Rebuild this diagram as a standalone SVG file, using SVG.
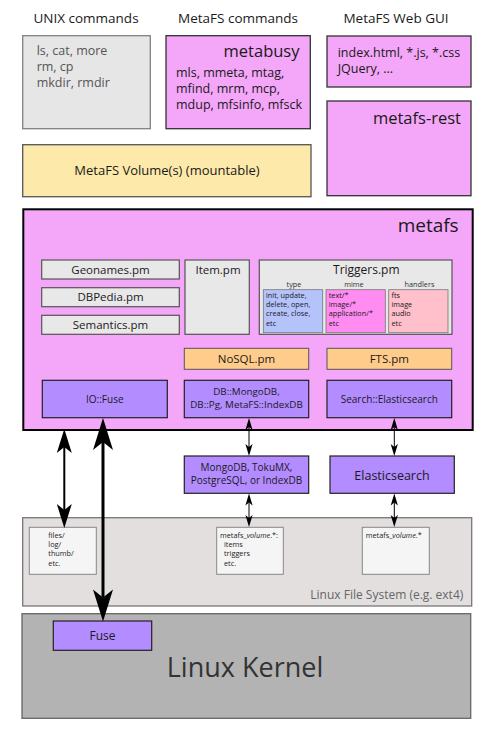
<svg xmlns="http://www.w3.org/2000/svg" width="488" height="733" viewBox="0 0 488 733">
<style>
text{font-family:"Open Sans","DejaVu Sans",sans-serif;fill:#1a1a1a}
.hdr{font-size:13.5px;text-anchor:middle}
.cmd{font-size:12.5px}
.big{font-size:16.5px;text-anchor:end}
.mod{font-size:11.5px;text-anchor:middle}
.sm{font-size:10px;text-anchor:middle}
.tiny{font-size:7.3px}
.tinyc{font-size:7.3px;text-anchor:middle;fill:#333}
.gray{fill:#e6e6e6;stroke:#808080;stroke-width:1.3}
.pink{fill:#f4a6f8;stroke:#333;stroke-width:1.3}
.purp{fill:#b38cff;stroke:#222;stroke-width:1.2}
.orng{fill:#ffcc8c;stroke:#555;stroke-width:1}
.mgray{fill:#e8e8e8;stroke:#555;stroke-width:1.2}
.file{fill:#f5f5f5;stroke:#888;stroke-width:1}
.ln{fill:none;stroke:#000}
</style>
<defs>
<marker id="mBig" markerUnits="userSpaceOnUse" orient="auto-start-reverse" refX="-24" refY="0" overflow="visible"><path d="M0,0 L-32,-10 L-24,0 L-32,10 Z" fill="#000"/></marker>
<marker id="mMed" markerUnits="userSpaceOnUse" orient="auto-start-reverse" refX="-18" refY="0" overflow="visible"><path d="M0,0 L-24,-7.5 L-18,0 L-24,7.5 Z" fill="#000"/></marker>
<marker id="mSm" markerUnits="userSpaceOnUse" orient="auto-start-reverse" refX="-9" refY="0" overflow="visible"><path d="M0,0 L-12,-3.6 L-9,0 L-12,3.6 Z" fill="#000"/></marker>
</defs>

<g id="headers">
<text class="hdr" x="86" y="23">UNIX commands</text>
<text class="hdr" x="238" y="23">MetaFS commands</text>
<text class="hdr" x="396" y="23">MetaFS Web GUI</text>
</g>

<g id="unix">
<rect class="gray" x="22.7" y="35.7" width="127.6" height="93"/>
<text class="cmd" x="36.7" y="55" style="fill:#555">ls, cat, more</text>
<text class="cmd" x="36.7" y="71" style="fill:#555">rm, cp</text>
<text class="cmd" x="36.7" y="87" style="fill:#555">mkdir, rmdir</text>
</g>

<g id="metabusy">
<rect class="pink" x="166" y="35.7" width="144.3" height="93"/>
<text class="big" x="299.5" y="57">metabusy</text>
<text class="cmd" x="176" y="77">mls, mmeta, mtag,</text>
<text class="cmd" x="176" y="93">mfind, mrm, mcp,</text>
<text class="cmd" x="176" y="109">mdup, mfsinfo, mfsck</text>
</g>

<g id="webgui">
<rect class="pink" x="327" y="36" width="144" height="51"/>
<text class="cmd" x="337.7" y="57">index.html, *.js, *.css</text>
<text class="cmd" x="337.7" y="73">JQuery, ...</text>
</g>

<g id="metafs-rest">
<rect class="pink" x="327" y="101" width="144" height="94.7"/>
<text class="big" x="461" y="124">metafs-rest</text>
</g>

<g id="volume">
<rect x="22.7" y="144.7" width="288.3" height="52" fill="#fde9a9" stroke="#555" stroke-width="1.3"/>
<text x="167" y="175" style="font-size:13px;text-anchor:middle">MetaFS Volume(s) (mountable)</text>
</g>

<g id="metafs">
<rect x="23.3" y="209.3" width="449.4" height="220.7" fill="#f4a6f8" stroke="#000" stroke-width="2"/>
<text x="458.7" y="232" style="font-size:19px;text-anchor:end">metafs</text>
</g>

<g id="geonames">
<rect class="mgray" x="41.7" y="260" width="137.6" height="19"/>
<text class="mod" x="110.5" y="273.5">Geonames.pm</text>
</g>
<g id="dbpedia">
<rect class="mgray" x="41.7" y="287.7" width="137.6" height="19"/>
<text class="mod" x="110.5" y="301">DBPedia.pm</text>
</g>
<g id="semantics">
<rect class="mgray" x="41.7" y="315.3" width="137.6" height="19"/>
<text class="mod" x="110.5" y="328.5">Semantics.pm</text>
</g>

<g id="item">
<rect class="mgray" x="185" y="260" width="64.3" height="74.3"/>
<text class="mod" x="218" y="273.5">Item.pm</text>
</g>

<g id="triggers">
<rect class="mgray" x="259.3" y="260" width="192.7" height="74.3"/>
<text class="mod" x="366.3" y="273.5" style="font-size:12px">Triggers.pm</text>
<text class="tinyc" x="294" y="286.5">type</text>
<text class="tinyc" x="354" y="286.5">mime</text>
<text class="tinyc" x="419.5" y="286.5">handlers</text>
<rect x="263.3" y="289.7" width="59.4" height="43" fill="#b4c3fa" stroke="#777" stroke-width="0.8"/>
<rect x="326" y="289.7" width="59.3" height="43" fill="#ff8cf0" stroke="#777" stroke-width="0.8"/>
<rect x="388.7" y="289.7" width="59.3" height="43" fill="#ffc0cb" stroke="#777" stroke-width="0.8"/>
<text class="tiny" x="266" y="297.5">init, update,</text>
<text class="tiny" x="266" y="307">delete, open,</text>
<text class="tiny" x="266" y="316.3">create, close,</text>
<text class="tiny" x="266" y="325.7">etc</text>
<text class="tiny" x="328.7" y="297.5">text/*</text>
<text class="tiny" x="328.7" y="307">image/*</text>
<text class="tiny" x="328.7" y="316.3">application/*</text>
<text class="tiny" x="328.7" y="325.7">etc</text>
<text class="tiny" x="391.5" y="297.5">fts</text>
<text class="tiny" x="391.5" y="307">image</text>
<text class="tiny" x="391.5" y="316.3">audio</text>
<text class="tiny" x="391.5" y="325.7">etc</text>
</g>

<g id="nosql">
<rect class="orng" x="184.3" y="348.3" width="124.4" height="21"/>
<text class="mod" x="246.5" y="362.5">NoSQL.pm</text>
</g>
<g id="fts">
<rect class="orng" x="327" y="348.3" width="124.7" height="21"/>
<text class="mod" x="389.3" y="362.5">FTS.pm</text>
</g>

<g id="iofuse">
<rect class="purp" x="42.3" y="380.3" width="125" height="37.4"/>
<text class="sm" x="104.8" y="402.5">IO::Fuse</text>
</g>
<g id="dbdrivers">
<rect class="purp" x="184.3" y="380.3" width="124.4" height="37.4"/>
<text class="sm" x="246.5" y="394.5" style="font-size:9.8px">DB::MongoDB,</text>
<text class="sm" x="246.5" y="407.5" style="font-size:9.8px">DB::Pg, MetaFS::IndexDB</text>
</g>
<g id="searches">
<rect class="purp" x="327" y="380.3" width="124.7" height="37.4"/>
<text class="sm" x="389.3" y="402.5">Search::Elasticsearch</text>
</g>

<g id="mongodb">
<rect class="purp" x="184.3" y="456" width="124.4" height="37.3"/>
<text class="sm" x="246.5" y="470.5">MongoDB, TokuMX,</text>
<text class="sm" x="246.5" y="483.5">PostgreSQL, or IndexDB</text>
</g>
<g id="elasticsearch">
<rect class="purp" x="330" y="456" width="124.3" height="37.3"/>
<text x="392" y="479.5" style="font-size:12.5px;text-anchor:middle">Elasticsearch</text>
</g>

<g id="linuxfs">
<rect x="22.7" y="517.7" width="449" height="88.3" fill="#e3dfdf" stroke="#777" stroke-width="1.3"/>
<text x="463.3" y="598.5" style="font-size:12px;text-anchor:end;fill:#666">Linux File System (e.g. ext4)</text>
</g>
<g id="files">
<rect class="file" x="29.3" y="527.3" width="67" height="47"/>
<text class="tiny" x="48.3" y="537.5">files/</text>
<text class="tiny" x="48.3" y="547">log/</text>
<text class="tiny" x="48.3" y="556.3">thumb/</text>
<text class="tiny" x="48.3" y="565.7">etc.</text>
</g>
<g id="dbfiles">
<rect class="file" x="216.7" y="527.3" width="66.6" height="47"/>
<text class="tiny" x="220" y="537.5">metafs_<tspan font-style="italic">volume</tspan>.*:</text>
<text class="tiny" x="224" y="547">items</text>
<text class="tiny" x="224" y="556.3">triggers</text>
<text class="tiny" x="224" y="565.7">etc.</text>
</g>
<g id="esfiles">
<rect class="file" x="362.3" y="527.3" width="67" height="47"/>
<text class="tiny" x="365.7" y="537.5">metafs_<tspan font-style="italic">volume</tspan>.*</text>
</g>

<g id="kernel">
<rect x="22" y="613.7" width="448.7" height="104.6" fill="#b3b3b3" stroke="#666" stroke-width="1.3"/>
<text x="245" y="676.5" style="font-size:27px;text-anchor:middle;fill:#333">Linux Kernel</text>
</g>
<g id="fuse">
<rect class="purp" x="53.3" y="621" width="98.4" height="29.3"/>
<text x="102.5" y="640" style="font-size:12px;text-anchor:middle">Fuse</text>
</g>

<g id="connectors">
<line class="ln" x1="64.3" y1="447" x2="64.3" y2="510" stroke-width="2" marker-start="url(#mMed)" marker-end="url(#mMed)"/>
<line class="ln" x1="103" y1="442" x2="103" y2="597.5" stroke-width="3" marker-start="url(#mBig)" marker-end="url(#mBig)"/>
<line class="ln" x1="249" y1="427" x2="249" y2="447" stroke-width="1" marker-start="url(#mSm)" marker-end="url(#mSm)"/>
<line class="ln" x1="394.3" y1="427" x2="394.3" y2="447" stroke-width="1" marker-start="url(#mSm)" marker-end="url(#mSm)"/>
<line class="ln" x1="249" y1="502.5" x2="249" y2="518" stroke-width="1" marker-start="url(#mSm)" marker-end="url(#mSm)"/>
<line class="ln" x1="394.3" y1="502.5" x2="394.3" y2="518" stroke-width="1" marker-start="url(#mSm)" marker-end="url(#mSm)"/>
</g>
</svg>
